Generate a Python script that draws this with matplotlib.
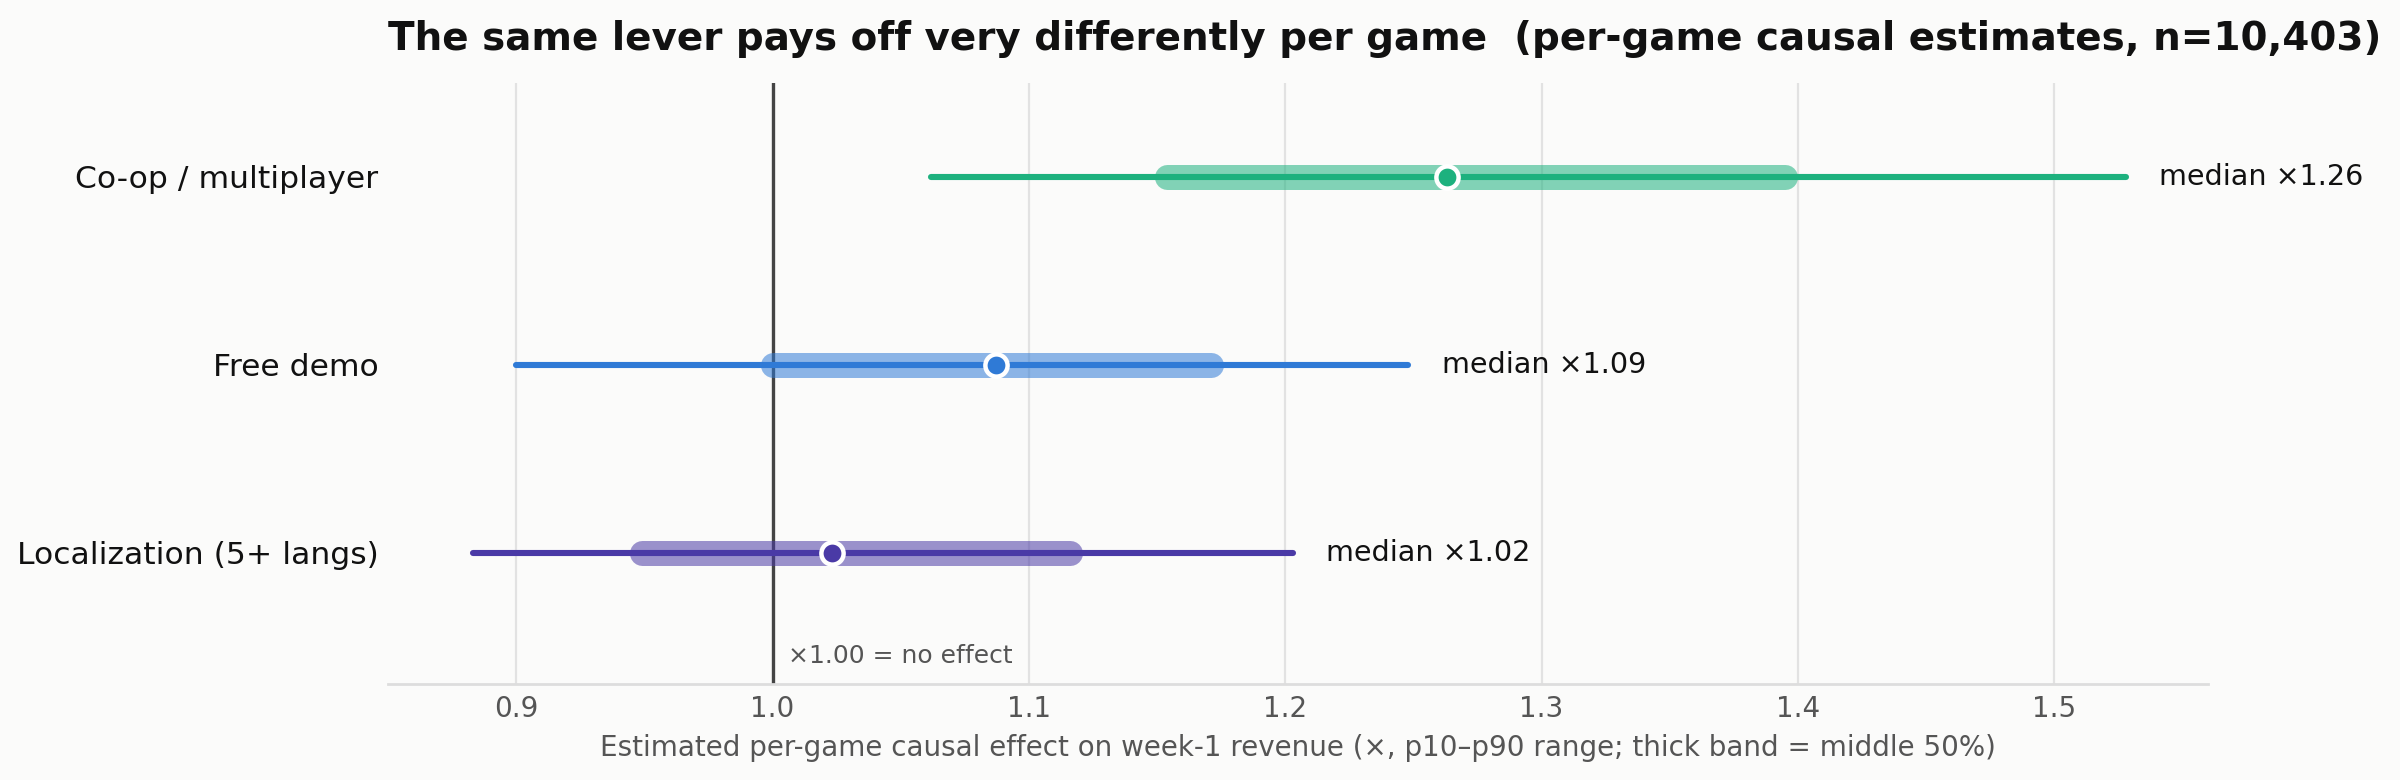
import matplotlib
matplotlib.use("Agg")
import matplotlib.pyplot as plt

levers = ["Localization (5+ langs)", "Free demo", "Co-op / multiplayer"]
p10 = [0.883, 0.900, 1.062]
p25 = [0.949, 1.000, 1.154]
median = [1.023, 1.087, 1.263]
p75 = [1.116, 1.171, 1.395]
p90 = [1.203, 1.248, 1.528]
colors = ["#4A3AA6", "#2F7AD6", "#1DB17E"]
xticks = [0.9, 1.0, 1.1, 1.2, 1.3, 1.4, 1.5]

bg = "#FBFBFA"
fig = plt.figure(figsize=(12, 3.9), dpi=200, facecolor=bg)
ax = fig.add_axes([0.1617, 0.123, 0.920 - 0.1617, 0.8936 - 0.123])
ax.set_facecolor(bg)

for i, name in enumerate(levers):
    c = colors[i]
    ax.plot([p10[i], p90[i]], [i, i], color=c, lw=2.2, solid_capstyle="round", zorder=3)
    ax.plot([p25[i], p75[i]], [i, i], color=c, lw=9, alpha=0.55, solid_capstyle="round", zorder=4)
    ax.plot([median[i]], [i], marker="o", ms=8, color=c, mec="white", mew=1.6, zorder=5)
    ax.text(p90[i] + 0.013, i, f"median \u00d7{median[i]:.2f}", va="center", ha="left",
            fontsize=10.3, color="#111111")

ax.axvline(1.0, color="#444444", lw=1.2, zorder=2)
ax.text(1.006, -0.55, "\u00d71.00 = no effect", fontsize=9, color="#555555", va="center", ha="left")

ax.set_xlim(0.85, 1.56)
ax.set_ylim(-0.7, 2.5)
ax.set_yticks(range(len(levers)))
ax.set_yticklabels(levers, fontsize=11.3, color="#111111")
ax.set_xticks(xticks)
ax.set_xticklabels([f"{t:.1f}" for t in xticks], fontsize=10, color="#555555")
ax.tick_params(axis="both", length=0)
ax.tick_params(axis="x", pad=4)
ax.tick_params(axis="y", pad=3.5)
ax.grid(axis="x", color="#E2E2E2", lw=0.8, zorder=0)
ax.set_axisbelow(True)
for s in ["top", "right", "left"]:
    ax.spines[s].set_visible(False)
ax.spines["bottom"].set_color("#DDDDDD")
ax.spines["bottom"].set_linewidth(1.0)

ax.set_xlabel("Estimated per-game causal effect on week-1 revenue (\u00d7, p10\u2013p90 range; thick band = middle 50%)",
              fontsize=10, color="#555555", labelpad=4)
ax.set_title("The same lever pays off very differently per game  (per-game causal estimates, n=10,403)",
             fontsize=14, fontweight="bold", loc="left", pad=12, color="#111111")

fig.savefig("out.png", dpi=200, facecolor=bg)
